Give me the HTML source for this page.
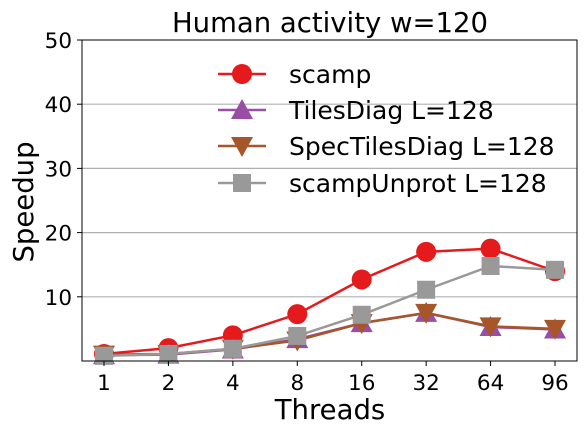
<!DOCTYPE html>
<html><head><meta charset="utf-8"><style>
body{margin:0;background:#fff;}
svg{display:block;font-family:"DejaVu Sans","Liberation Sans",sans-serif;}
</style></head><body>
<svg id="chart" width="587" height="434">
<text x="330" y="32" text-anchor="middle" font-size="27.5">Human activity w=120</text>
<g id="grid"></g><g id="series"></g><g id="axes"></g>
<text x="330" y="419" text-anchor="middle" font-size="27.5">Threads</text>
<text transform="translate(33,202) rotate(-90)" text-anchor="middle" font-size="27.5">Speedup</text>
<g id="legend"></g>
</svg>
<script>
const categories=["1","2","4","8","16","32","64","96"];
const yTicks=[0,10,20,30,40,50];
const scamp=[1.1,2.0,4.0,7.3,12.7,17.0,17.5,14.0];
const tilesDiag=[0.9,1.0,1.8,3.4,5.9,7.5,5.3,4.9];
const specTilesDiag=[1.0,1.1,1.9,3.2,5.9,7.5,5.4,5.0];
const scampUnprot=[0.8,1.1,1.9,3.9,7.2,11.1,14.8,14.2];
const seriesNames=["scamp","TilesDiag L=128","SpecTilesDiag L=128","scampUnprot L=128"];
const NS="http://www.w3.org/2000/svg";
const L=82,R=577,T=40,B=361;
const x=i=>104+i*(555-104)/(categories.length-1);
const y=v=>B-(v/50)*(B-T);
function mk(tag,attrs,parent){const e=document.createElementNS(NS,tag);for(const k in attrs)e.setAttribute(k,attrs[k]);parent.appendChild(e);return e;}
const grid=document.getElementById('grid'),axes=document.getElementById('axes'),ser=document.getElementById('series'),leg=document.getElementById('legend');
yTicks.forEach(t=>{
  if(t>0&&t<50){const g=mk('line',{x1:L,x2:R,y1:y(t),y2:y(t),stroke:'#b0b0b0','stroke-width':1.2},grid);
  
  }
  if(t>0){const tk=mk('line',{x1:L-5,x2:L,y1:y(t),y2:y(t),stroke:'#000'},axes);
  
  
  const tx=mk('text',{x:L-10,y:y(t)+8,'text-anchor':'end','font-size':21.5},axes);tx.textContent=t;
  
  }
});
categories.forEach((c,i)=>{
  const tk=mk('line',{x1:x(i),x2:x(i),y1:B,y2:B+5,stroke:'#000'},axes);
  
  
  const tx=mk('text',{x:x(i),y:B+29,'text-anchor':'middle','font-size':21.5},axes);tx.textContent=c;
  
  
});
const frame=mk('rect',{x:L,y:T,width:R-L,height:B-T,fill:'none',stroke:'#000','stroke-width':1},axes);


function marker(kind,cx,cy,col,p){
  let e;
  if(kind==='o')e=mk('circle',{cx,cy,r:10,fill:col},p);
  else if(kind==='^')e=mk('polygon',{points:`${cx},${cy-11} ${cx-11},${cy+9} ${cx+11},${cy+9}`,fill:col},p);
  else if(kind==='v')e=mk('polygon',{points:`${cx},${cy+11} ${cx-11},${cy-9} ${cx+11},${cy-9}`,fill:col},p);
  else e=mk('rect',{x:cx-9,y:cy-9,width:18,height:18,fill:col},p);
  return e;
}
const data=[scamp,tilesDiag,specTilesDiag,scampUnprot];
const colors=['#e41a1c','#984ea3','#a65628','#999999'];
const kinds=['o','^','v','s'];
data.forEach((d,s)=>{
  const g=mk('g',{},ser);
  
  
  const pl=mk('polyline',{points:d.map((v,i)=>x(i)+','+y(v)).join(' '),fill:'none',stroke:colors[s],'stroke-width':2.5},g);
  
  
  d.forEach((v,i)=>{const m=marker(kinds[s],x(i),y(v),colors[s],g);
    
    });
});
const ly=[74,110,146,183];
seriesNames.forEach((n,s)=>{
  const g=mk('g',{},leg);
  
  
  mk('line',{x1:218,x2:266,y1:ly[s],y2:ly[s],stroke:colors[s],'stroke-width':2.5},g);
  marker(kinds[s],242,ly[s],colors[s],g);
  const t=mk('text',{x:289,y:ly[s]+9,'font-size':25},g);t.textContent=n;
});
</script>
</body></html>
